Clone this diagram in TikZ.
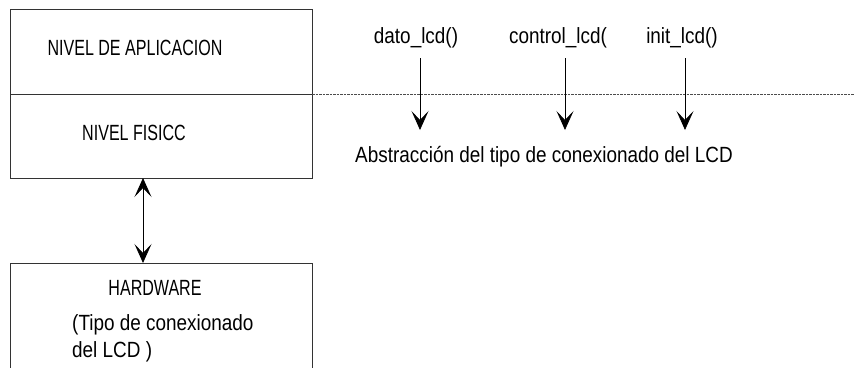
\documentclass[tikz,border=0pt]{standalone}
\usepackage{fontspec}
\setmainfont[FakeStretch=0.86]{Liberation Sans}
\newfontfamily\capsfont[FakeStretch=0.73]{Liberation Sans}
\usetikzlibrary{arrows.meta}
\begin{document}
\begin{tikzpicture}[x=1pt,y=-1pt,
  frame/.style={draw=black!80,line width=0.9pt},
  lbl/.style={inner sep=0pt,font=\fontsize{22}{26}\selectfont},
  caps/.style={inner sep=0pt,font=\capsfont\fontsize{22}{26}\selectfont},
  conn/.style={draw=black,line width=0.8pt,-{Stealth[length=19pt,width=17pt,inset=9pt]}},
  divider/.style={draw=black!70,line width=0.8pt,dash pattern=on 2.5pt off 1pt}]
\useasboundingbox (0,0) rectangle (854,367);
% layered box: application level over physical level
\draw[frame] (10,9) rectangle (312,178);
\coordinate (divL) at (10,94);
\coordinate (divR) at (312,94);
\coordinate (divEnd) at (854,94);
\draw[frame] (divL) -- (divR);
\draw[divider] (divR) -- (divEnd);
\node[caps] (app) at (135,48) {NIVEL DE APLICACION};
\node[caps] (fis) at (134,133) {NIVEL FISICC};
% hardware box, running past the lower edge
\draw[frame] (10,370) -- (10,263) -- (312,263) -- (312,370);
\node[caps] (hw) at (155,288) {HARDWARE};
\node[lbl,anchor=west] (hw1) at (72,325) {(Tipo de conexionado};
\node[lbl,anchor=west] (hw2) at (72,352) {del LCD )};
\coordinate (fisB) at (143,178);
\coordinate (hwT) at (143,263);
\draw[conn,{Stealth[length=19pt,width=17pt,inset=9pt]}-{Stealth[length=19pt,width=17pt,inset=9pt]}] (fisB) -- (hwT);
% interface functions
\node[lbl] (dato) at (416,38) {dato\_lcd()};
\node[lbl] (ctrl) at (558,38) {control\_lcd(};
\node[lbl] (init) at (682,38) {init\_lcd()};
\node[lbl,anchor=west] (abs) at (355,157) {Abstracción del tipo de conexionado del LCD};
\coordinate (d0) at (420,58);  \coordinate (d1) at (420,130);
\coordinate (c0) at (565,58);  \coordinate (c1) at (565,130);
\coordinate (i0) at (685,58);  \coordinate (i1) at (685,130);
\draw[conn] (d0) -- (d1);
\draw[conn] (c0) -- (c1);
\draw[conn] (i0) -- (i1);
\end{tikzpicture}
\end{document}
